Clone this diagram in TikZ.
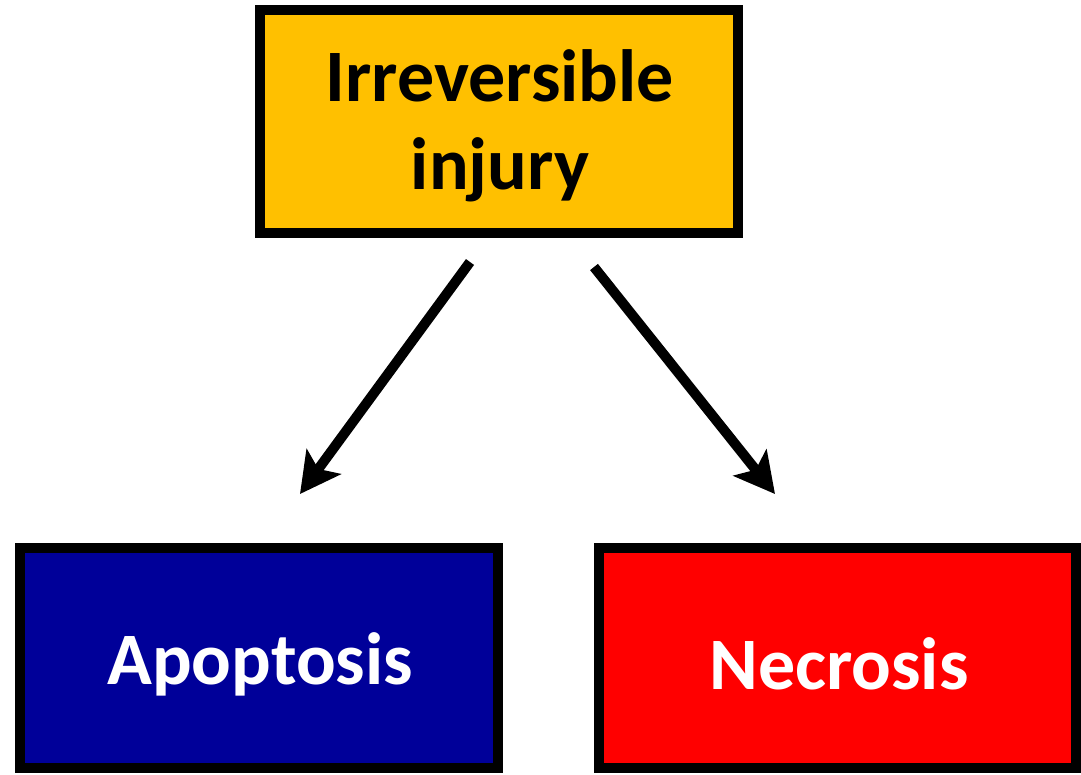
\documentclass[tikz,border=0pt]{standalone}
\usepackage{fontspec}
\setmainfont{Carlito}
\usetikzlibrary{arrows.meta}
\definecolor{topfill}{HTML}{FFC000}
\definecolor{apofill}{HTML}{000099}
\definecolor{necfill}{HTML}{FF0000}
\tikzset{
  boxstyle/.style={draw=black, line width=10pt},
  lbl/.style={font=\bfseries\fontsize{74}{88}\selectfont, align=center, inner sep=0pt},
  arr/.style={line width=10pt, -{Stealth[length=40pt, width=42pt, inset=9pt]}}
}
\begin{document}
\begin{tikzpicture}[x=1pt, y=-1pt]
\useasboundingbox (0,0) rectangle (1081,774);
\draw[boxstyle, fill=topfill] (260,10) rectangle (738,233);
\node[lbl, text=black] (top) at (500,126) {Irreversible\\injury};
\draw[boxstyle, fill=apofill] (20,548) rectangle (498,768);
\node[lbl, text=white] (apo) at (260,664) {Apoptosis};
\draw[boxstyle, fill=necfill] (599,548) rectangle (1076,768);
\node[lbl, text=white] (nec) at (839,664) {Necrosis};
\coordinate (a1) at (470,262);
\coordinate (a2) at (300,494);
\coordinate (b1) at (594,267);
\coordinate (b2) at (775,494);
\draw[arr] (a1) -- (a2);
\draw[arr] (b1) -- (b2);
\end{tikzpicture}
\end{document}
